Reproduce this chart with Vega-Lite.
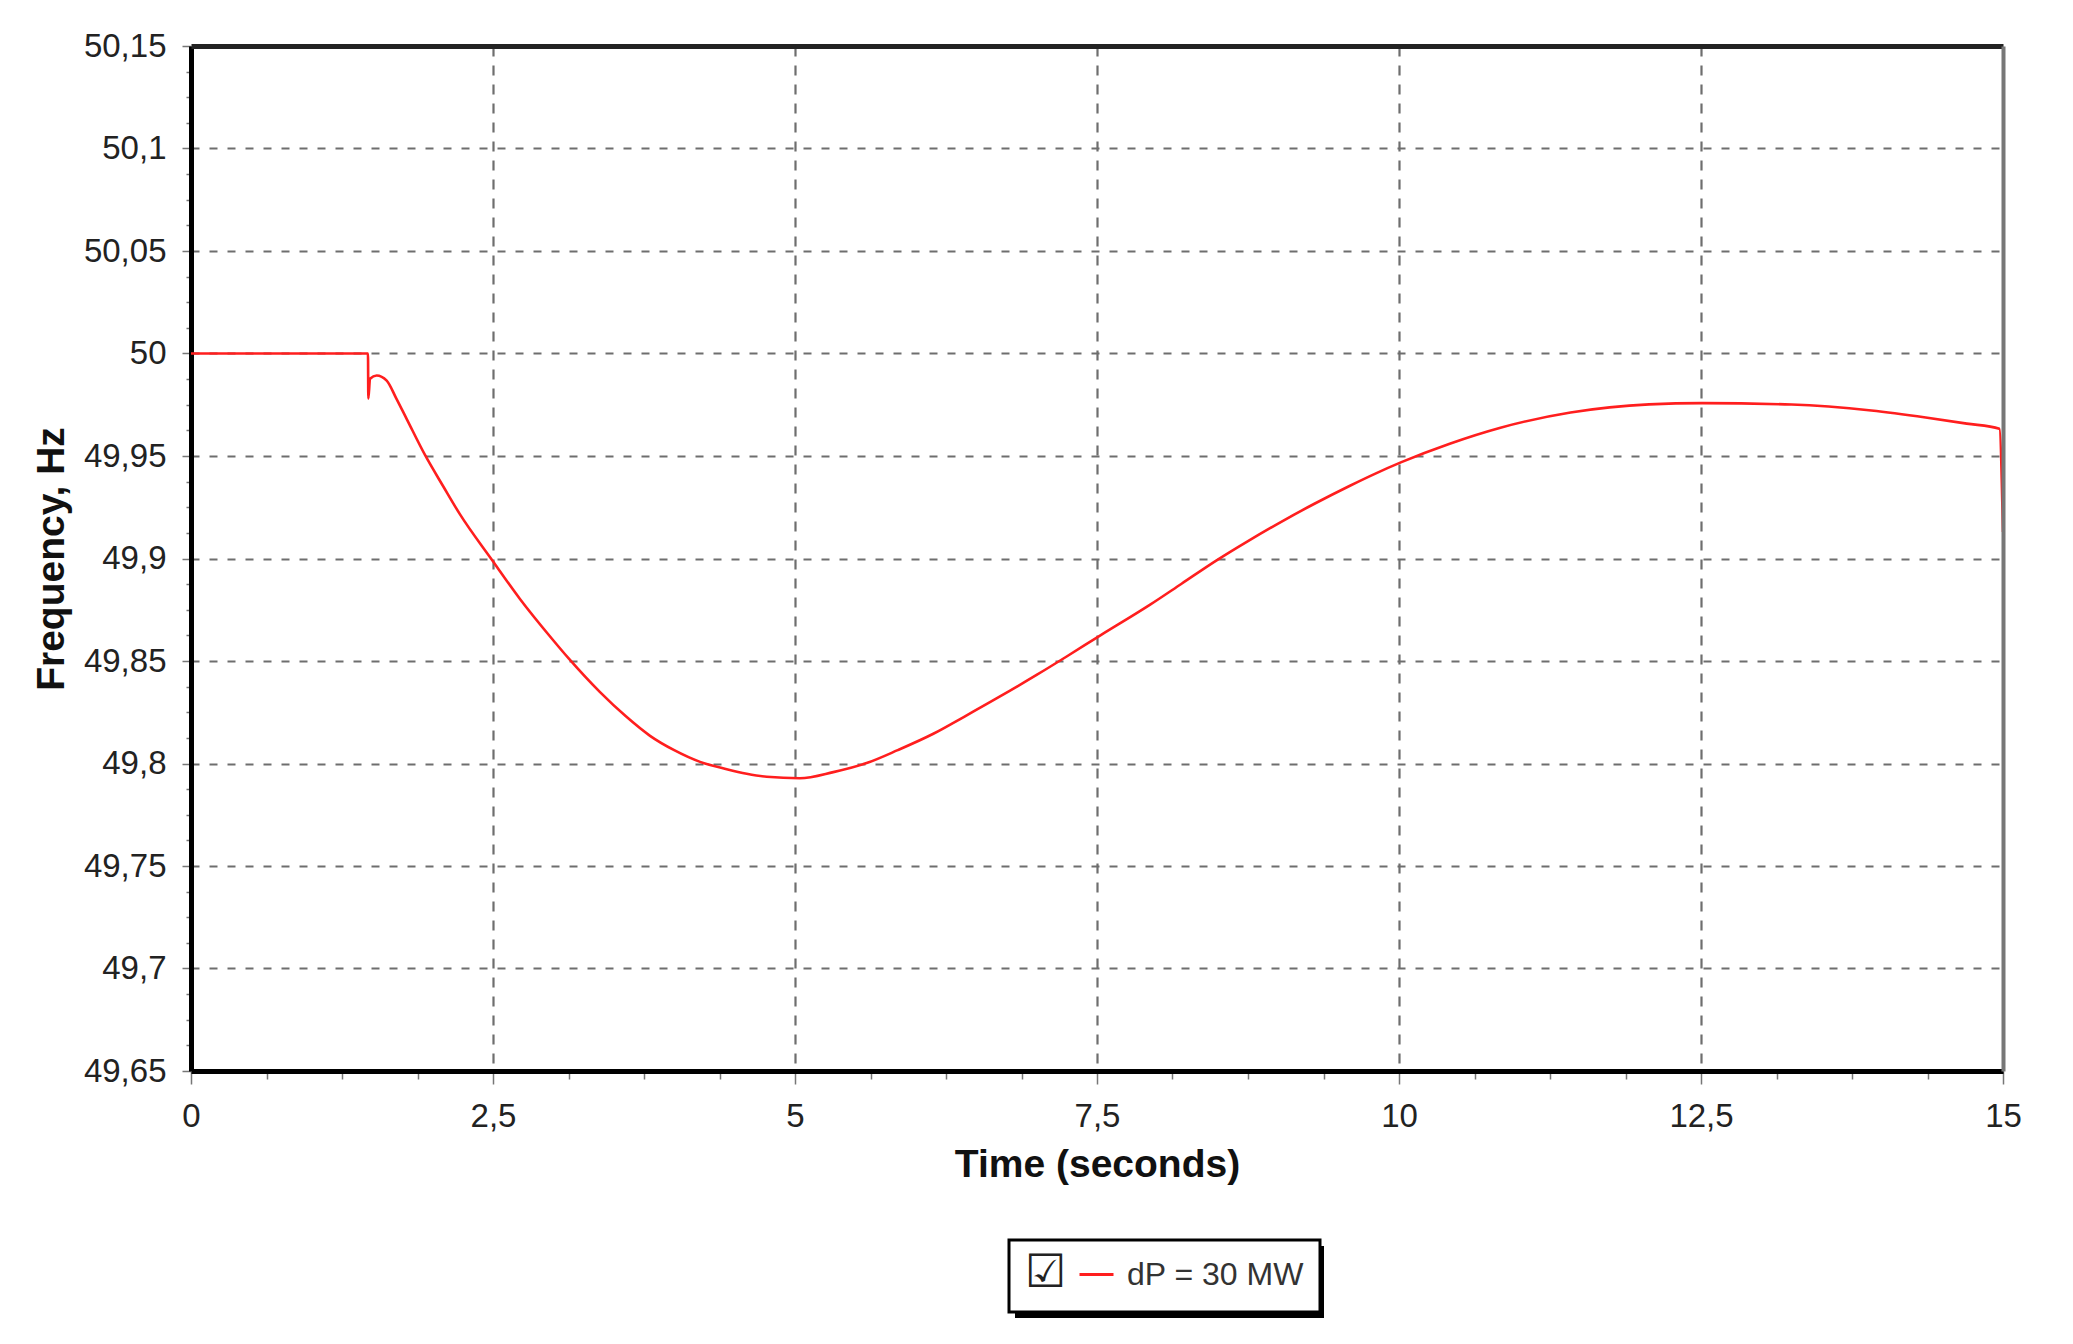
{
  "$schema": "https://vega.github.io/schema/vega-lite/v6.json",
  "width": 1812,
  "height": 1025,
  "autosize": {"type": "none"},
  "padding": {"left": 191, "top": 46, "right": 70, "bottom": 273},
  "background": "white",
  "config": {
    "view": {"stroke": null},
    "axis": {
      "labelFont": "Liberation Sans",
      "labelFontSize": 33,
      "labelColor": "#222",
      "titleFont": "Liberation Sans",
      "titleFontSize": 39,
      "titleFontWeight": "bold",
      "titleColor": "#111"
    },
    "legend": {
      "labelFont": "Liberation Sans",
      "labelFontSize": 32,
      "labelLimit": 500,
      "gradientHorizontalMaxLength": 600
    }
  },
  "data": {
    "values": [
      {"t": 0, "f": 50, "series": "dP = 30 MW"},
      {"t": 1.465, "f": 50, "series": "dP = 30 MW"},
      {"t": 1.468, "f": 49.978, "series": "dP = 30 MW"},
      {"t": 1.482, "f": 49.9877, "series": "dP = 30 MW"},
      {"t": 1.537, "f": 49.9893, "series": "dP = 30 MW"},
      {"t": 1.62, "f": 49.9868, "series": "dP = 30 MW"},
      {"t": 1.7, "f": 49.978, "series": "dP = 30 MW"},
      {"t": 1.786, "f": 49.968, "series": "dP = 30 MW"},
      {"t": 1.937, "f": 49.9505, "series": "dP = 30 MW"},
      {"t": 2.09, "f": 49.935, "series": "dP = 30 MW"},
      {"t": 2.227, "f": 49.9215, "series": "dP = 30 MW"},
      {"t": 2.489, "f": 49.8995, "series": "dP = 30 MW"},
      {"t": 2.72, "f": 49.8805, "series": "dP = 30 MW"},
      {"t": 3.0, "f": 49.86, "series": "dP = 30 MW"},
      {"t": 3.13, "f": 49.851, "series": "dP = 30 MW"},
      {"t": 3.386, "f": 49.8348, "series": "dP = 30 MW"},
      {"t": 3.6, "f": 49.823, "series": "dP = 30 MW"},
      {"t": 3.8, "f": 49.8135, "series": "dP = 30 MW"},
      {"t": 4.0, "f": 49.8065, "series": "dP = 30 MW"},
      {"t": 4.214, "f": 49.8008, "series": "dP = 30 MW"},
      {"t": 4.435, "f": 49.7972, "series": "dP = 30 MW"},
      {"t": 4.6, "f": 49.795, "series": "dP = 30 MW"},
      {"t": 4.766, "f": 49.7935, "series": "dP = 30 MW"},
      {"t": 5.04, "f": 49.7928, "series": "dP = 30 MW"},
      {"t": 5.317, "f": 49.7958, "series": "dP = 30 MW"},
      {"t": 5.593, "f": 49.8002, "series": "dP = 30 MW"},
      {"t": 5.85, "f": 49.8065, "series": "dP = 30 MW"},
      {"t": 6.145, "f": 49.8145, "series": "dP = 30 MW"},
      {"t": 6.4, "f": 49.8228, "series": "dP = 30 MW"},
      {"t": 6.697, "f": 49.8327, "series": "dP = 30 MW"},
      {"t": 7.0, "f": 49.8432, "series": "dP = 30 MW"},
      {"t": 7.249, "f": 49.8522, "series": "dP = 30 MW"},
      {"t": 7.525, "f": 49.8624, "series": "dP = 30 MW"},
      {"t": 7.94, "f": 49.8775, "series": "dP = 30 MW"},
      {"t": 8.2, "f": 49.8877, "series": "dP = 30 MW"},
      {"t": 8.49, "f": 49.8991, "series": "dP = 30 MW"},
      {"t": 8.75, "f": 49.9085, "series": "dP = 30 MW"},
      {"t": 9.04, "f": 49.9184, "series": "dP = 30 MW"},
      {"t": 9.3, "f": 49.9267, "series": "dP = 30 MW"},
      {"t": 9.594, "f": 49.9355, "series": "dP = 30 MW"},
      {"t": 9.8, "f": 49.9413, "series": "dP = 30 MW"},
      {"t": 10.02, "f": 49.947, "series": "dP = 30 MW"},
      {"t": 10.42, "f": 49.956, "series": "dP = 30 MW"},
      {"t": 10.84, "f": 49.9638, "series": "dP = 30 MW"},
      {"t": 11.42, "f": 49.9712, "series": "dP = 30 MW"},
      {"t": 12.07, "f": 49.9752, "series": "dP = 30 MW"},
      {"t": 12.51, "f": 49.9758, "series": "dP = 30 MW"},
      {"t": 13.25, "f": 49.9751, "series": "dP = 30 MW"},
      {"t": 13.91, "f": 49.9722, "series": "dP = 30 MW"},
      {"t": 14.36, "f": 49.9688, "series": "dP = 30 MW"},
      {"t": 14.7, "f": 49.9658, "series": "dP = 30 MW"},
      {"t": 14.97, "f": 49.9633, "series": "dP = 30 MW"},
      {"t": 15, "f": 49.913, "series": "dP = 30 MW"}
    ]
  },
  "layer": [
    {
      "mark": {"type": "line", "strokeWidth": 2.6, "clip": false, "interpolate": "monotone"},
      "encoding": {
        "x": {
          "field": "t", "type": "quantitative",
          "scale": {"domain": [0, 15], "nice": false},
          "axis": {
            "orient": "bottom",
            "title": "Time (seconds)",
            "titlePadding": 12,
            "values": [0, 0.625, 1.25, 1.875, 2.5, 3.125, 3.75, 4.375, 5, 5.625, 6.25, 6.875, 7.5, 8.125, 8.75, 9.375, 10, 10.625, 11.25, 11.875, 12.5, 13.125, 13.75, 14.375, 15],
            "labelExpr": "datum.value % 2.5 === 0 ? replace(format(datum.value, '~g'), '.', ',') : ''",
            "labelOverlap": false,
            "labelFlush": false,
            "labelPadding": 16,
            "tickSize": {"condition": {"test": "datum.value % 2.5 === 0", "value": 13}, "value": 8},
            "tickColor": "#777",
            "tickWidth": 1.5,
            "domainColor": "#000",
            "domainWidth": 5,
            "grid": true,
            "gridColor": "#6e6e6e",
            "gridWidth": 2.2,
            "gridDash": [10, 9],
            "gridOpacity": {"condition": {"test": "datum.value % 2.5 === 0 && datum.value > 0 && datum.value < 15", "value": 1}, "value": 0}
          }
        },
        "y": {
          "field": "f", "type": "quantitative",
          "scale": {"domain": [49.65, 50.15], "nice": false, "zero": false},
          "axis": {
            "orient": "left",
            "title": "Frequency, Hz",
            "titlePadding": 12,
            "values": [49.65, 49.6625, 49.675, 49.6875, 49.7, 49.7125, 49.725, 49.7375, 49.75, 49.7625, 49.775, 49.7875, 49.8, 49.8125, 49.825, 49.8375, 49.85, 49.8625, 49.875, 49.8875, 49.9, 49.9125, 49.925, 49.9375, 49.95, 49.9625, 49.975, 49.9875, 50, 50.0125, 50.025, 50.0375, 50.05, 50.0625, 50.075, 50.0875, 50.1, 50.1125, 50.125, 50.1375, 50.15],
            "labelExpr": "abs(round(datum.value*20) - datum.value*20) < 0.01 ? replace(format(datum.value, '.2~f'), '.', ',') : ''",
            "labelOverlap": false,
            "labelFlush": false,
            "labelPadding": 16,
            "tickSize": {"condition": {"test": "abs(round(datum.value*20) - datum.value*20) < 0.01", "value": 9}, "value": 5},
            "tickColor": "#777",
            "tickWidth": 1.5,
            "domainColor": "#000",
            "domainWidth": 5,
            "grid": true,
            "gridColor": "#6e6e6e",
            "gridWidth": 2.2,
            "gridDash": [8, 10],
            "gridOpacity": {"condition": {"test": "abs(round(datum.value*20) - datum.value*20) < 0.01 && datum.value > 49.66 && datum.value < 50.14", "value": 1}, "value": 0}
          }
        },
        "color": {
          "field": "series", "type": "nominal",
          "scale": {"range": ["#ff1e1e"]},
          "legend": {
            "orient": "none",
            "legendX": 818,
            "legendY": 1194,
            "title": "☑",
            "titleOrient": "left",
            "titleFont": "DejaVu Sans",
            "titleFontSize": 46,
            "titleFontWeight": "normal",
            "titleColor": "#222",
            "titlePadding": 11,
            "symbolType": "stroke",
            "symbolSize": 1156,
            "symbolStrokeWidth": 3,
            "labelColor": "#333",
            "labelOffset": 12,
            "padding": 16,
            "fillColor": "white",
            "strokeColor": "#000",
            "zindex": 1,
            "encode": {"legend": {"update": {"strokeWidth": {"value": 3}}}}
          }
        }
      }
    },
    {
      "mark": {"type": "line", "opacity": 0},
      "encoding": {
        "x": {
          "field": "t", "type": "quantitative",
          "axis": {"orient": "top", "title": null, "labels": false, "ticks": false, "grid": false, "domainColor": "#222", "domainWidth": 5, "zindex": 1}
        },
        "y": {
          "field": "f", "type": "quantitative",
          "axis": {"orient": "right", "title": null, "labels": false, "ticks": false, "grid": false, "domainColor": "#777", "domainWidth": 4, "zindex": 1}
        },
        "stroke": {
          "field": "f", "type": "quantitative",
          "scale": {"range": ["#000", "#000"]},
          "legend": {
            "orient": "none",
            "legendX": 824,
            "legendY": 1200,
            "direction": "horizontal",
            "title": null,
            "gradientLength": 309,
            "gradientThickness": 72,
            "gradientStrokeColor": "#000",
            "gradientStrokeWidth": 0,
            "labelExpr": "''",
            "labelFontSize": 1,
            "labelOffset": 0,
            "padding": 0,
            "zindex": 0
          }
        }
      }
    }
  ],
  "resolve": {"axis": {"x": "independent", "y": "independent"}}
}
